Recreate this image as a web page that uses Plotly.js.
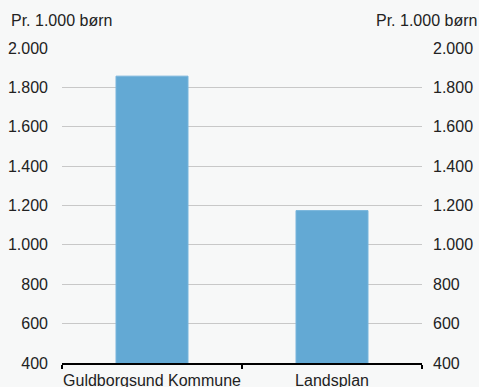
<!DOCTYPE html>
<html>
<head>
<meta charset="utf-8">
<script src="https://cdn.plot.ly/plotly-3.0.1.min.js"></script>
<style>html,body{margin:0;padding:0;background:#f7f8f8;}#chart{width:479px;height:387px;}</style>
</head>
<body>
<div id="chart"></div>
<script>
const categories = ["Guldborgsund Kommune", "Landsplan"];
const values = [1857, 1174];
const unitLabel = "Pr. 1.000 børn";
const yTicks = [400, 600, 800, 1000, 1200, 1400, 1600, 1800, 2000];

const font = {family: "Liberation Sans, Arial, sans-serif", size: 16, color: "#222"};

const traces = [{
  type: "bar",
  x: categories,
  y: values,
  width: 0.4,
  marker: {color: "#63a9d4", line: {color: "#78b5dc", width: 1}},
  hoverinfo: "none"
}, {
  type: "scatter",
  mode: "markers",
  x: categories,
  y: values,
  yaxis: "y2",
  marker: {size: 1, opacity: 0},
  hoverinfo: "none"
}];

const yCommon = {
  range: [400, 2000],
  tickvals: yTicks,
  tickformat: ",d",
  ticks: "",
  zeroline: false,
  showline: false,
  tickfont: font,
  fixedrange: true
};

const layout = {
  width: 479, height: 387,
  margin: {l: 62, r: 57, t: 48, b: 24},
  paper_bgcolor: "#f7f8f8",
  plot_bgcolor: "#f7f8f8",
  separators: ",.",
  font: font,
  showlegend: false,
  xaxis: {
    type: "category",
    tickson: "boundaries",
    ticks: "outside",
    ticklen: 4,
    tickwidth: 2,
    tickcolor: "#000",
    tickangle: 0,
    ticklabelstandoff: 2,
    showline: true,
    linecolor: "#000",
    linewidth: 2,
    showgrid: false,
    tickfont: font,
    automargin: false,
    fixedrange: true
  },
  yaxis: Object.assign({}, yCommon, {
    side: "left",
    ticklabelstandoff: 13,
    showgrid: true,
    gridcolor: "#c8c8c8",
    gridwidth: 1
  }),
  yaxis2: Object.assign({}, yCommon, {
    side: "right",
    ticklabelstandoff: 10,
    overlaying: "y",
    showgrid: false
  }),
  annotations: [
    {text: unitLabel, xref: "paper", yref: "paper", x: -53/360, y: 1 + 28/315, xanchor: "left", yanchor: "middle", showarrow: false, font: font},
    {text: unitLabel, xref: "paper", yref: "paper", x: 1 + 57/360, y: 1 + 28/315, xanchor: "right", yanchor: "middle", showarrow: false, font: font}
  ]
};

Plotly.newPlot("chart", traces, layout, {displayModeBar: false, staticPlot: true});
</script>
</body>
</html>
